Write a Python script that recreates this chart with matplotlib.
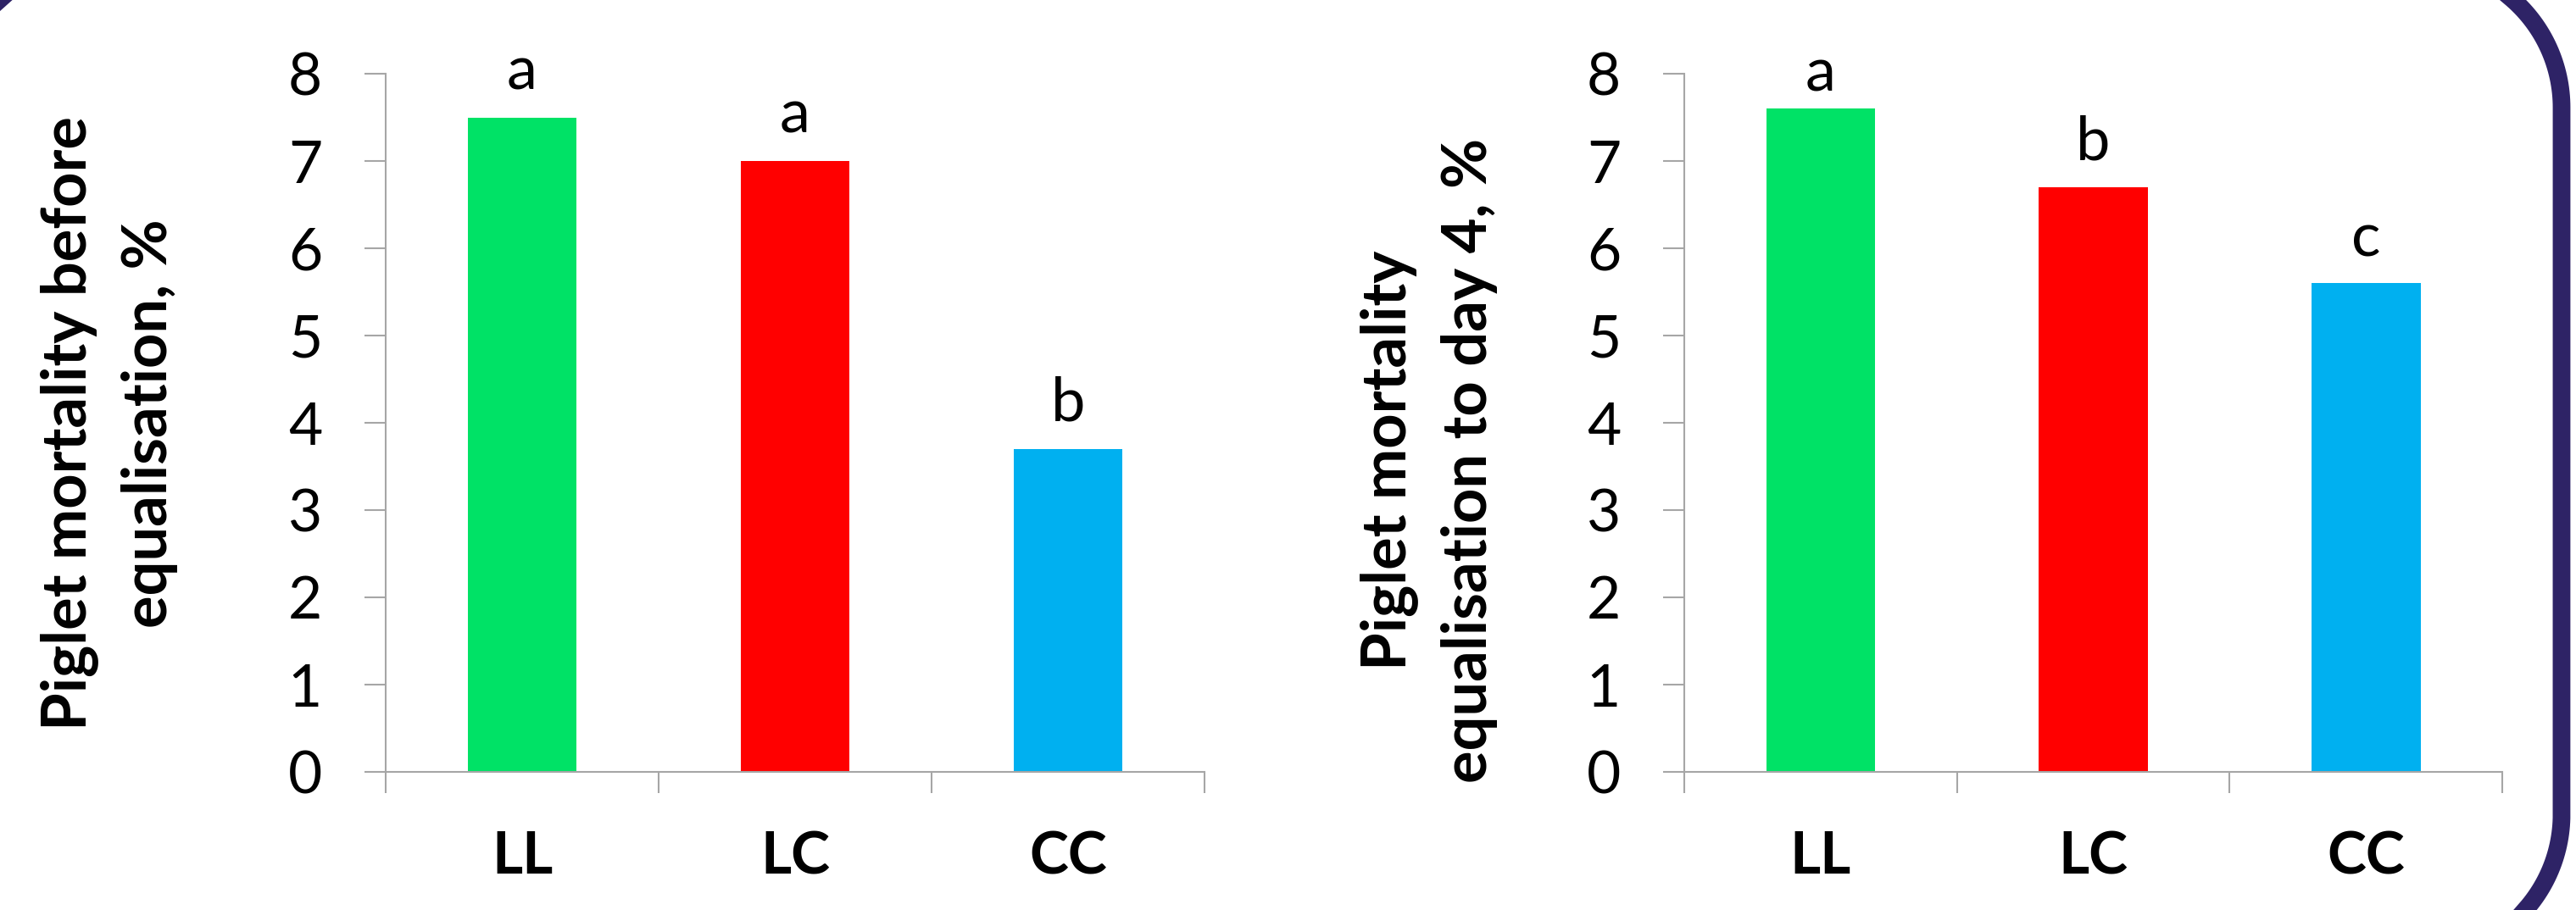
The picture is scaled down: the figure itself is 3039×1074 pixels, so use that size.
import numpy as np
import matplotlib
matplotlib.use("Agg")
import matplotlib.pyplot as plt

plt.rcParams['font.family'] = ['Lato', 'DejaVu Sans']

# ---------------- data ---------------- #
groups = ["LL", "LC", "CC"]
before_equal = [7.5, 7.0, 3.7]
before_letters = ["a", "a", "b"]
to_day4 = [7.6, 6.7, 5.6]
day4_letters = ["a", "b", "c"]
bar_colors = ["#00E266", "#FF0000", "#00B0F0"]
ylabels = ["Piglet mortality before\nequalisation, %",
           "Piglet mortality\nequalisation to day 4, %"]

AXIS_GRAY = "#A6A6A6"
FRAME = "#2E2366"
W, H = 3039, 1074

fig = plt.figure(figsize=(W / 100, H / 100), dpi=100)


def rounded_rect(x0, y0, x1, y1, r, n=60):
    """Outline of a rounded rectangle in y-down pixel coords."""
    corners = [((x0 + r, y0 + r), np.pi, 1.5 * np.pi),
               ((x1 - r, y0 + r), 1.5 * np.pi, 2 * np.pi),
               ((x1 - r, y1 - r), 0, 0.5 * np.pi),
               ((x0 + r, y1 - r), 0.5 * np.pi, np.pi)]
    xs, ys = [], []
    for (cx, cy), t0, t1 in corners:
        t = np.linspace(t0, t1, n)
        xs.extend(cx + r * np.cos(t))
        ys.extend(cy + r * np.sin(t))
    xs.append(xs[0])
    ys.append(ys[0])
    return xs, ys


# background frame, in pixel coords over the whole figure
bg = fig.add_axes([0, 0, 1, 1], zorder=-1)
bg.set_xlim(0, W)
bg.set_ylim(H, 0)
bg.axis("off")
fx, fy = rounded_rect(-58, -43, 3022, 1131, 170)
bg.plot(fx, fy, color=FRAME, lw=15, solid_joinstyle="round")


def draw_panel(rect, values, letters, letter_offsets, ylabel, label_xy):
    ax = fig.add_axes(rect)
    x = list(range(len(groups)))
    bars = ax.bar(x, values, width=0.4, color=bar_colors, zorder=2)
    for b, lab, off in zip(bars, letters, letter_offsets):
        ax.annotate(lab, (b.get_x() + b.get_width() / 2, b.get_height()),
                    xytext=(0, off), textcoords="offset points",
                    ha="center", va="baseline", fontsize=52,
                    annotation_clip=False)
    ax.set_xlim(-0.5, len(groups) - 0.5)
    ax.set_ylim(0, 8)
    ax.set_yticks(range(0, 9))
    ax.tick_params(axis="y", direction="out", length=18, width=1.5,
                   color=AXIS_GRAY, labelsize=50, pad=36)
    ax.set_xticks([i - 0.5 for i in range(len(groups) + 1)])
    ax.set_xticklabels([])
    ax.tick_params(axis="x", which="major", direction="out", length=18,
                   width=1.5, color=AXIS_GRAY)
    ax.set_xticks(x, minor=True)
    ax.set_xticklabels(groups, minor=True, fontsize=50, fontweight="bold")
    ax.tick_params(axis="x", which="minor", length=0, pad=50)
    for s in ["top", "right"]:
        ax.spines[s].set_visible(False)
    for s in ["left", "bottom"]:
        ax.spines[s].set_color(AXIS_GRAY)
        ax.spines[s].set_linewidth(1.5)
    fig.text(label_xy[0], label_xy[1], ylabel, rotation=90, ha="center",
             va="center", fontsize=52, fontweight="bold", linespacing=1.5,
             multialignment="center")
    return ax


draw_panel([455 / W, 1 - 911 / H, 966 / W, 824 / H],
           before_equal, before_letters, [24, 24, 24],
           ylabels[0], (129 / W, 1 - 500 / H))
draw_panel([1987 / W, 1 - 911 / H, 965 / W, 824 / H],
           to_day4, day4_letters, [15, 23, 23],
           ylabels[1], (1686 / W, 1 - 543 / H))

fig.savefig("out.png", dpi=100)
